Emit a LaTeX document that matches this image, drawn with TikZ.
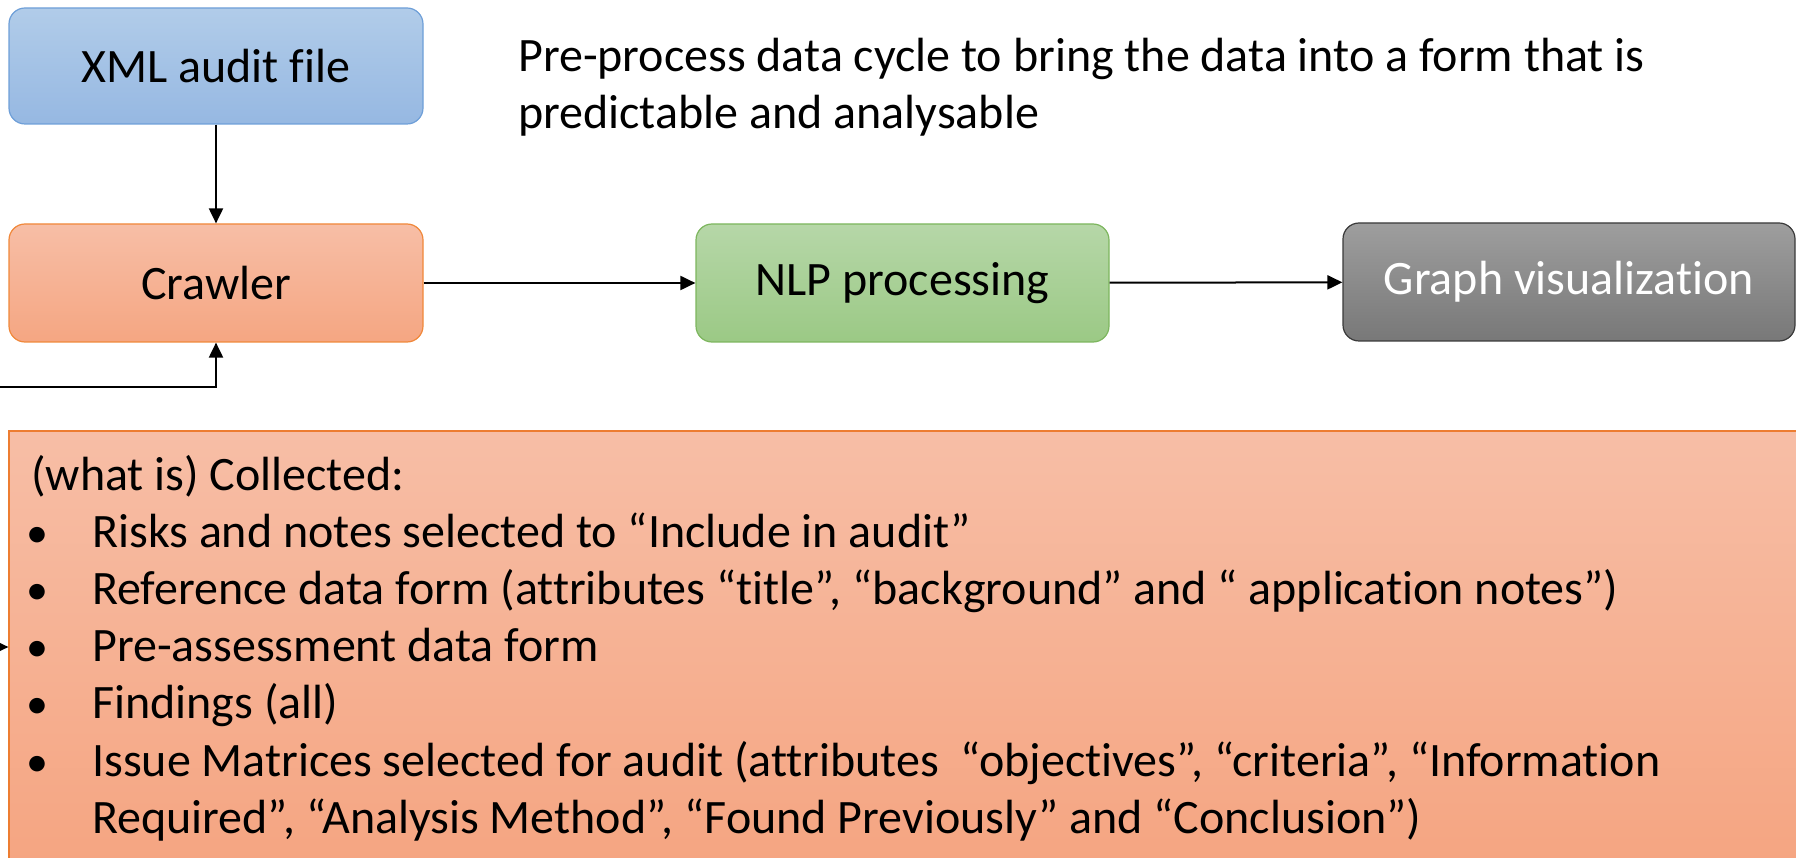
\documentclass[tikz,border=0pt]{standalone}
\usepackage{fontspec}
\setmainfont{Carlito}[Ligatures=NoCommon]
\usetikzlibrary{arrows.meta}

\definecolor{xmlTop}{HTML}{B1CCE9}
\definecolor{xmlBot}{HTML}{96B8E2}
\definecolor{xmlLine}{HTML}{6E9FD8}
\definecolor{crwTop}{HTML}{F7BEA6}
\definecolor{crwBot}{HTML}{F5A682}
\definecolor{crwLine}{HTML}{F0883A}
\definecolor{nlpTop}{HTML}{B6D7A8}
\definecolor{nlpBot}{HTML}{9BC985}
\definecolor{nlpLine}{HTML}{7DB65E}
\definecolor{grTop}{HTML}{9E9E9E}
\definecolor{grBot}{HTML}{787878}
\definecolor{grLine}{HTML}{3A3A3A}
\definecolor{bigTop}{HTML}{F7BEA6}
\definecolor{bigBot}{HTML}{F5A480}
\definecolor{bigLine}{HTML}{ED7D31}

\tikzset{
  flowbox/.style={rounded corners=16pt, draw, line width=1.2pt, inner sep=0pt,
    minimum width=414pt, minimum height=117pt,
    font=\fontsize{48}{58}\selectfont},
  txtline/.style={anchor=base west, inner sep=0pt, font=\fontsize{48}{58}\selectfont},
  dotmark/.style={anchor=base, inner sep=0pt, font=\fontsize{44}{58}\selectfont},
  conn/.style={line width=2pt, -{Triangle[length=15pt,width=14pt]}},
  conn2/.style={line width=2pt, {Triangle[length=15pt,width=14pt]}-{Triangle[length=15pt,width=14pt]}}
}

\begin{document}
\begin{tikzpicture}[x=1pt,y=-1pt]
\useasboundingbox (0,0) rectangle (1796,858);

% process boxes
\node[flowbox, draw=xmlLine, top color=xmlTop, bottom color=xmlBot,
      minimum height=116pt] (xml) at (216,66) {XML audit file};
\node[flowbox, draw=crwLine, top color=crwTop, bottom color=crwBot,
      minimum height=118pt] (crawler) at (216,283) {Crawler};
\node[flowbox, draw=nlpLine, top color=nlpTop, bottom color=nlpBot,
      minimum width=413pt, minimum height=118pt] (nlp) at (902.5,283) {NLP processing};
\node[flowbox, draw=grLine, top color=grTop, bottom color=grBot, text=white,
      minimum width=452pt, minimum height=118pt] (graph) at (1569,282) {Graph visualization};

% collected-data panel
\node[draw=bigLine, line width=1.2pt, top color=bigTop, bottom color=bigBot,
      inner sep=0pt, minimum width=1801pt, minimum height=449pt] (bigbox) at (909.5,655.5) {};

% heading text
\node[txtline] (head1) at (518,72) {Pre-process data cycle to bring the data into a form that is};
\node[txtline] (head2) at (518,129) {predictable and analysable};

% list text
\node[txtline] (l0) at (31,490) {(what is) Collected:};
\node[dotmark] (b1) at (37,547.2) {\textbullet};
\node[txtline] (l1) at (92,547.2) {Risks and notes selected to “Include in audit”};
\node[dotmark] (b2) at (37,604.4) {\textbullet};
\node[txtline] (l2) at (92,604.4) {Reference data form (attributes “title”, “background” and “ application notes”)};
\node[dotmark] (b3) at (37,661.6) {\textbullet};
\node[txtline] (l3) at (92,661.6) {Pre-assessment data form};
\node[dotmark] (b4) at (37,718.8) {\textbullet};
\node[txtline] (l4) at (92,718.8) {Findings (all)};
\node[dotmark] (b5) at (37,776) {\textbullet};
\node[txtline] (l5) at (92,776) {Issue Matrices selected for audit (attributes\ \ “objectives”, “criteria”, “Information};
\node[txtline] (l6) at (92,833.2) {Required”, “Analysis Method”, “Found Previously” and “Conclusion”)};

% connectors
\draw[conn] (xml) -- (crawler);
\draw[conn] (crawler) -- (nlp);
\draw[conn] (nlp) -- (graph);

\coordinate (loopA) at (-40,387);
\coordinate (loopB) at (-40,647);
\draw[conn2] (crawler.south) -- (crawler.south |- loopA) -- (loopA) -- (loopB) -- (loopB -| bigbox.west);
\end{tikzpicture}
\end{document}
